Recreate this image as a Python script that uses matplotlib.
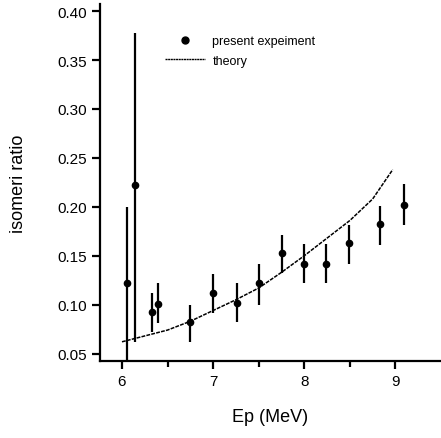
import matplotlib
matplotlib.use('Agg')
import matplotlib.pyplot as plt
from matplotlib.ticker import MultipleLocator, FormatStrFormatter
from matplotlib.lines import Line2D

plt.rcParams['font.family'] = ['Liberation Sans', 'DejaVu Sans']

# measured isomeric ratios
ep = [6.05, 6.14, 6.33, 6.40, 6.75, 7.00, 7.26, 7.50, 7.75, 8.00, 8.24, 8.49, 8.83, 9.09]
ratio = [0.122, 0.222, 0.092, 0.101, 0.082, 0.112, 0.102, 0.122, 0.153, 0.142, 0.142, 0.163, 0.182, 0.202]
err_lo = [0.09, 0.160, 0.020, 0.020, 0.020, 0.021, 0.020, 0.022, 0.021, 0.020, 0.020, 0.021, 0.021, 0.021]
err_hi = [0.078, 0.156, 0.020, 0.021, 0.018, 0.019, 0.020, 0.020, 0.018, 0.020, 0.020, 0.018, 0.019, 0.021]

# theory curve
ep_th = [6.0, 6.25, 6.5, 6.75, 7.0, 7.25, 7.5, 7.75, 8.0, 8.25, 8.5, 8.75, 8.97]
ratio_th = [0.062, 0.068, 0.074, 0.083, 0.094, 0.105, 0.117, 0.133, 0.150, 0.168, 0.186, 0.208, 0.238]

fig = plt.figure(figsize=(4.41, 4.39), dpi=100)
ax = fig.add_axes([0.227, 0.175, 0.771, 0.813])

ax.plot(ep_th, ratio_th, linestyle=(0, (2.5, 0.8)), color='black', lw=1.1)
ax.errorbar(ep, ratio, yerr=[err_lo, err_hi], fmt='o', color='black', ms=4.5,
            elinewidth=1.6, capsize=0)

ax.set_xlim(5.76, 9.49)
ax.set_ylim(0.0422, 0.407)
ax.xaxis.set_major_locator(MultipleLocator(1))
ax.xaxis.set_minor_locator(MultipleLocator(0.5))
ax.yaxis.set_major_locator(MultipleLocator(0.05))
ax.yaxis.set_major_formatter(FormatStrFormatter('%.2f'))

for s in ['top', 'right']:
    ax.spines[s].set_visible(False)
for s in ['left', 'bottom']:
    ax.spines[s].set_linewidth(1.6)
ax.tick_params(which='major', direction='out', length=6, width=1.6, labelsize=11)
ax.tick_params(which='minor', direction='out', length=4, width=1.6)

ax.set_xlabel('Ep (MeV)', fontsize=13, labelpad=14)
ax.set_ylabel('isomeri ratio', fontsize=13, labelpad=22)

handles = [Line2D([], [], marker='o', ls='none', color='black', ms=5),
           Line2D([], [], ls=(0, (1.5, 0.4)), color='black', lw=1.0)]
ax.legend(handles, ['present expeiment', 'theory'], loc='upper left',
          bbox_to_anchor=(0.176, 0.927), frameon=False, fontsize=9,
          handlelength=3.2, handletextpad=0.6, labelspacing=0.6,
          borderaxespad=0)

fig.savefig('out.png', dpi=100)
